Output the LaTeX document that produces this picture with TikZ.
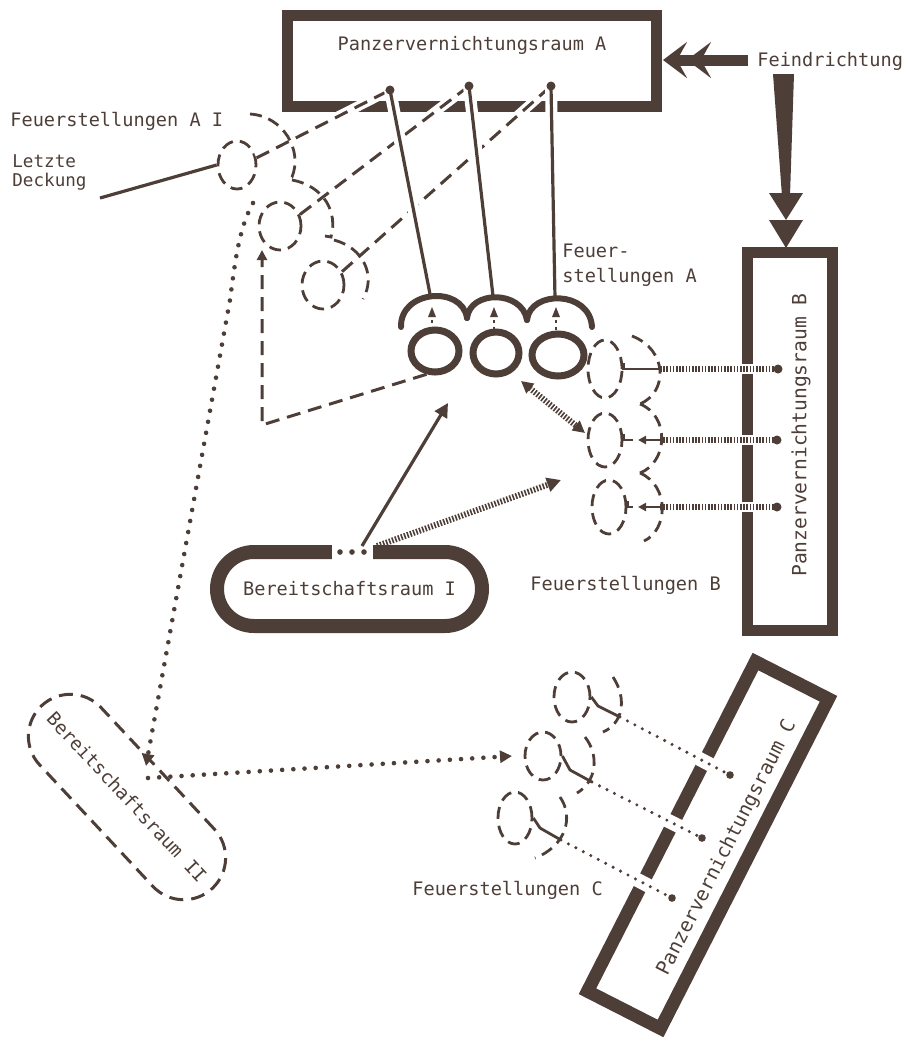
\documentclass[tikz,border=0pt]{standalone}
\usepackage{fontspec}
\setmonofont{DejaVu Sans Mono}
\usetikzlibrary{arrows.meta,shapes.geometric}
\definecolor{ink}{RGB}{78,62,56}
\begin{document}
\begin{tikzpicture}[x=0.5pt,y=-0.5pt,
  lbl/.style={text=ink, font=\ttfamily\fontsize{9.3}{12.5}\selectfont, inner sep=0pt},
  biglbl/.style={text=ink, font=\ttfamily\fontsize{9.8}{12}\selectfont, inner sep=0pt},
  smalllbl/.style={text=ink, font=\ttfamily\fontsize{8.8}{9.5}\selectfont, inner sep=0pt},
  bigbox/.style={draw=ink, line width=5.5pt, inner sep=0pt},
  solidln/.style={draw=ink, line width=1.6pt},
  dashln/.style={draw=ink, line width=1.5pt, dash pattern=on 7pt off 4pt},
  dnode/.style={draw=ink, ellipse, line width=1.4pt, dash pattern=on 6pt off 3.5pt, inner sep=0pt},
  ring/.style={draw=ink, ellipse, line width=3.5pt, inner sep=0pt},
  arcd/.style={draw=ink, line width=1.4pt, dash pattern=on 6pt off 3.5pt},
  dotln/.style={draw=ink, line width=2.3pt, line cap=round, dash pattern=on 0pt off 5.6pt},
  finedot/.style={draw=ink, line width=1.7pt, line cap=round, dash pattern=on 0pt off 4.2pt},
  hatch/.style={draw=ink, line width=3pt, dash pattern=on 0.8pt off 0.8pt},
  whitegap/.style={preaction={draw=white, line width=#1, solid}},
  arch/.style={draw=ink, line width=3pt, line cap=round},
  tipT/.style={-{Triangle[length=#1,width=#1]}},
  stub/.style={draw=ink, line width=1.4pt},
]
\useasboundingbox (0,0) rectangle (908,1041);

% ---------- Panzervernichtungsraum A ----------
\node[bigbox, minimum width=184.5pt, minimum height=45.5pt] (boxA) at (472,61) {};
\node[lbl] (boxAlbl) at (472,45) {Panzervernichtungsraum A};

% ---------- Feindrichtung ----------
\node[lbl, anchor=west] (feind) at (757,61) {Feindrichtung};
\coordinate (feindtip) at (663,60);
\coordinate (feindstart) at (748,60);
\draw[ink, line width=5.5pt, -{Stealth[length=12pt,width=18pt,inset=5pt] Stealth[length=12pt,width=18pt,inset=5pt]}]
  (feindstart) -- (feindtip);
\fill[ink] (773,74) -- (794,74) -- (790,196) -- (782,196) -- cycle;
\fill[ink] (769,193) -- (803,193) -- (786,220) -- cycle;
\fill[ink] (769,220) -- (803,220) -- (786,248) -- cycle;

% ---------- Panzervernichtungsraum B ----------
\node[bigbox, minimum width=42.5pt, minimum height=189pt] (boxB) at (790,441.5) {};
\node[biglbl, rotate=90] (boxBlbl) at (801,435) {Panzervernichtungsraum B};

% ---------- Panzervernichtungsraum C ----------
\node[bigbox, line width=6.5pt, minimum width=185pt, minimum height=41pt, rotate=63] (boxC) at (708,845) {};
\node[biglbl, rotate=63] (boxClbl) at (727,848) {Panzervernichtungsraum C};

% ---------- Labels ----------
\node[lbl, anchor=west] (lblAI) at (10,121) {Feuerstellungen A I};
\node[smalllbl, anchor=west, align=left] (lblLD) at (12,172) {Letzte\\Deckung};
\node[lbl, anchor=west, align=left] (lblA) at (562,265) {Feuer-\\stellungen A};
\node[lbl, anchor=west] (lblB) at (530,585) {Feuerstellungen B};
\node[lbl, anchor=west] (lblC) at (412,890) {Feuerstellungen C};

% ---------- Feuerstellungen A (solid) ----------
\node[ring, minimum width=24pt, minimum height=21pt] (fa1) at (435,351) {};
\node[ring, minimum width=23pt, minimum height=21pt] (fa2) at (496,353) {};
\node[ring, minimum width=26pt, minimum height=21pt] (fa3) at (558,355) {};

% ---------- Feuerstellungen A I (dashed) ----------
\node[dnode, minimum width=19pt, minimum height=24pt] (fai1) at (237,165) {};
\node[dnode, minimum width=21pt, minimum height=24pt] (fai2) at (280,226) {};
\node[dnode, minimum width=21pt, minimum height=24pt] (fai3) at (323,285) {};

\coordinate (pA1) at (390,90);
\coordinate (pA2) at (469,86);
\coordinate (pA3) at (551,86);
\coordinate (aA1) at (430,294);
\coordinate (aA2) at (493,296);
\coordinate (aA3) at (555,298);

% dashed leaders A I -> box A
\draw[dashln, whitegap=5pt] (fai1.20) -- (pA1);
\draw[dashln, whitegap=5pt] (fai2.30) -- (pA2);
\draw[dashln, whitegap=5pt] (fai3.35) -- (pA3);
% solid lines box A -> arches
\draw[solidln, whitegap=6pt] (pA1) -- (aA1);
\draw[solidln, whitegap=6pt] (pA2) -- (aA2);
\draw[solidln, whitegap=6pt] (pA3) -- (aA3);
\foreach \p in {pA1,pA2,pA3} \fill[ink] (\p) circle[radius=4.5];

% cover arcs of A I
\draw[arcd] (250,114) .. controls (283,116) and (303,150) .. (292,177) -- (285,176);
\draw[arcd] (292,180) .. controls (324,186) and (338,212) .. (331,237) -- (325,236);
\draw[arcd] (334,240) .. controls (364,248) and (376,276) .. (363,299);

% Letzte Deckung pointer
\coordinate (ldend) at (100,198);
\draw[solidln] (ldend) -- (fai1.west);

% arches of A
\draw[arch] (401,327) .. controls (400,290) and (462,285) .. (467,318);
\draw[arch] (467,318) .. controls (470,290) and (522,290) .. (527,320);
\draw[arch] (527,320) .. controls (530,290) and (590,290) .. (592,327);
\foreach \x in {432,494,556} {
  \fill[ink] (\x,307) -- (\x-4,317) -- (\x+4,317) -- cycle;
  \draw[ink, line width=1.3pt, dash pattern=on 1.5pt off 1.8pt] (\x,320) -- (\x,330);
}

% dashed retreat path A -> A I
\coordinate (bendL) at (262,425);
\coordinate (upL) at (262,250);
\draw[dashln, tipT=5pt] (fa1.250) -- (bendL) -- (upL);

% ---------- Feuerstellungen B (dashed) ----------
\node[dnode, minimum width=17pt, minimum height=29pt] (fb1) at (605,369) {};
\node[dnode, minimum width=17pt, minimum height=27pt] (fb2) at (605,440) {};
\node[dnode, minimum width=17pt, minimum height=27pt] (fb3) at (609,507) {};

\coordinate (dB1) at (778,369);
\coordinate (dB2) at (777,440);
\coordinate (dB3) at (777,507);
\coordinate (hB1) at (660,369);
\coordinate (hB2) at (660,440);
\coordinate (hB3) at (660,507);
\draw[hatch, whitegap=5pt] (hB1) -- (dB1);
\draw[hatch, whitegap=5pt] (hB2) -- (dB2);
\draw[hatch, whitegap=5pt] (hB3) -- (dB3);
\foreach \p in {dB1,dB2,dB3} \fill[ink] (\p) circle[radius=4.5];
\draw[stub] (fb1.east) ++(0,-6) -- (fb1.east) -- (hB1);
\draw[stub] (fb2.east) ++(0,-6) -- (fb2.east) -- (633,440);
\draw[stub] (fb3.east) ++(0,-6) -- (fb3.east) -- (633,507);
\draw[ink, line width=1.4pt, tipT=4pt] (hB2) -- (638,440);
\draw[ink, line width=1.4pt, tipT=4pt] (hB3) -- (638,507);
% cover arcs of B
\draw[arcd] (632,336) .. controls (668,350) and (668,392) .. (640,404);
\draw[arcd] (640,404) .. controls (670,416) and (668,462) .. (640,473);
\draw[arcd] (640,473) .. controls (670,486) and (668,530) .. (644,541);

% double hatched arrow A <-> B
\coordinate (hA) at (521,381);
\coordinate (hBb) at (585,433);
\draw[hatch, {Triangle[length=6pt,width=6pt]}-{Triangle[length=6pt,width=6pt]}] (hA) -- (hBb);

% ---------- Bereitschaftsraum I ----------
\node[bigbox, lbl, line width=7pt, rounded corners=18.5pt, minimum width=132.5pt, minimum height=37pt] (br1) at (349.5,589) {Bereitschaftsraum I};
\fill[white] (332,538) rectangle (373,566);
\foreach \x in {340,352,364} \fill[ink] (\x,552) circle[radius=2.8];
\coordinate (br1s) at (362,546);
\coordinate (br1h) at (377,546);
\coordinate (toA) at (448,403);
\coordinate (toB) at (561,480);
\draw[solidln, tipT=7pt] (br1s) -- (toA);
\draw[hatch, tipT=7pt] (br1h) -- (toB);

% ---------- Bereitschaftsraum II ----------
\node[draw=ink, line width=1.5pt, dash pattern=on 7pt off 4pt, rounded corners=21pt,
      minimum width=125pt, minimum height=42pt, rotate=-47] (br2) at (127,797) {};
\node[lbl, rotate=-47] (br2lbl) at (127,797) {Bereitschaftsraum II};
\coordinate (dotTop) at (253,203);
\coordinate (dotMid) at (230,300);
\coordinate (br2in) at (146,766);
\coordinate (br2out) at (148,778);
\coordinate (toC) at (512,756);
\draw[dotln, tipT=6pt] (dotTop) .. controls (239,228) and (235,262) .. (dotMid) -- (br2in);
\draw[dotln, tipT=6pt] (br2out) -- (toC);

% ---------- Feuerstellungen C (dashed) ----------
\node[dnode, minimum width=18pt, minimum height=25pt] (fc1) at (572,697) {};
\node[dnode, minimum width=18pt, minimum height=24pt] (fc2) at (543,756) {};
\node[dnode, minimum width=17pt, minimum height=26pt] (fc3) at (515,818) {};
\coordinate (sC1) at (620,717);
\coordinate (sC2) at (592,782);
\coordinate (sC3) at (561,840);
\coordinate (dC1) at (730,775);
\coordinate (dC2) at (702,838);
\coordinate (dC3) at (672,898);
\draw[finedot, whitegap=7pt] (sC1) -- (dC1);
\draw[finedot, whitegap=7pt] (sC2) -- (dC2);
\draw[finedot, whitegap=7pt] (sC3) -- (dC3);
\foreach \p in {dC1,dC2,dC3} \fill[ink] (\p) circle[radius=3.8];
\draw[stub] (fc1.east) -- (598,706) -- (sC1);
\draw[stub] (fc2.east) -- (570,770) -- (sC2);
\draw[stub] (fc3.east) -- (540,828) -- (sC3);
\draw[arcd] (613,677) .. controls (628,700) and (622,724) .. (603,732);
\draw[arcd] (585,737) .. controls (600,756) and (596,782) .. (577,793);
\draw[arcd] (560,797) .. controls (574,817) and (566,846) .. (535,858);

\end{tikzpicture}
\end{document}
